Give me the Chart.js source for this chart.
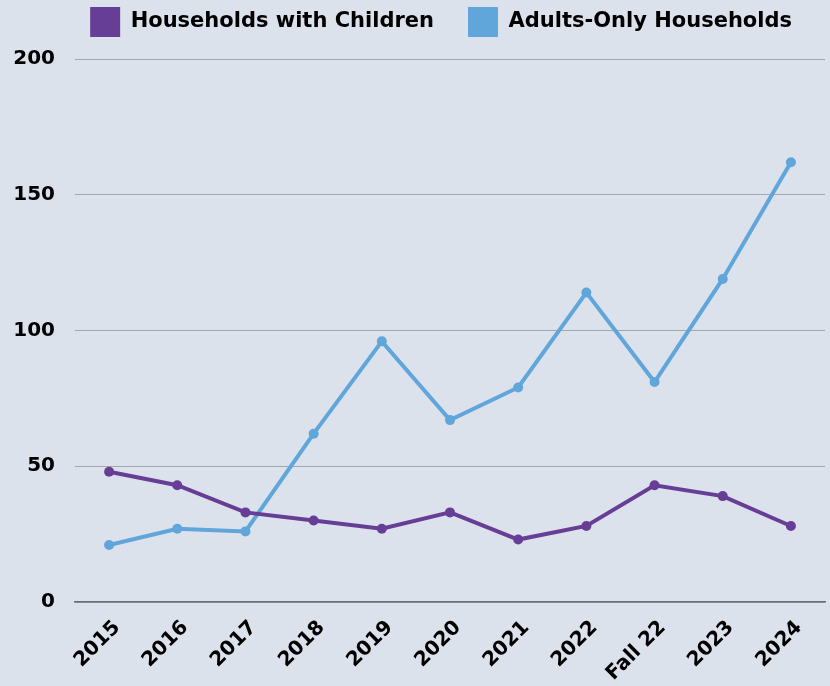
<!DOCTYPE html>
<html>
<head>
<meta charset="utf-8">
<script src="https://cdn.jsdelivr.net/npm/chart.js@4/dist/chart.umd.min.js"></script>
<style>
    html, body { margin: 0; padding: 0; background: #dce2ec; }
    #wrap { width: 830px; height: 686px; position: relative; }
</style>
</head>
<body>
<div id="wrap"><canvas id="chart"></canvas></div>
<script>
const labels = ['2015', '2016', '2017', '2018', '2019', '2020', '2021', '2022', 'Fall 22', '2023', '2024'];
const withChildren = [48, 43, 33, 30, 27, 33, 23, 28, 43, 39, 28];
const adultsOnly = [21, 27, 26, 62, 96, 67, 79, 114, 81, 119, 162];
const yTicks = [0, 50, 100, 150, 200];

const purple = '#673e95';
const blue = '#60a6db';
const fontFamily = '"DejaVu Sans", sans-serif';

// legend sits high, plot starts lower: force the legend box height
const legendSpacing = {
    id: 'legendSpacing',
    beforeInit(chart) {
        const origFit = chart.legend.fit;
        chart.legend.fit = function () {
            origFit.call(this);
            this.height = 86;
        };
    }
};

new Chart(document.getElementById('chart'), {
    type: 'line',
    data: {
        labels: labels,
        datasets: [{
            label: 'Households with Children',
            data: withChildren,
            borderColor: purple,
            backgroundColor: purple,
            borderWidth: 4,
            pointRadius: 5,
            pointBackgroundColor: purple,
            pointBorderWidth: 0,
            tension: 0
        }, {
            label: 'Adults-Only Households',
            data: adultsOnly,
            borderColor: blue,
            backgroundColor: blue,
            borderWidth: 4,
            pointRadius: 5,
            pointBackgroundColor: blue,
            pointBorderWidth: 0,
            tension: 0
        }]
    },
    plugins: [legendSpacing],
    options: {
        responsive: true,
        maintainAspectRatio: false,
        animation: false,
        layout: { padding: { left: 0, right: 4, top: -27, bottom: 0 } },
        plugins: {
            legend: {
                position: 'top',
                align: 'end',
                labels: {
                    color: '#000',
                    font: { family: fontFamily, size: 21, weight: 'bold' },
                    boxWidth: 30,
                    boxHeight: 30,
                    padding: 34,
                    generateLabels: (chart) => chart.data.datasets.map((ds, i) => ({
                        text: ds.label,
                        fillStyle: ds.borderColor,
                        strokeStyle: ds.borderColor,
                        lineWidth: 0,
                        datasetIndex: i
                    }))
                }
            },
            tooltip: { enabled: false }
        },
        scales: {
            x: {
                offset: true,
                grid: { display: false, drawTicks: false },
                border: { display: true, color: '#6b6e73', width: 1.5 },
                afterFit: (axis) => {
                    axis.paddingLeft = 0;
                    axis.paddingRight = 0;
                    axis.height = 84;
                },
                ticks: {
                    color: '#000',
                    font: { family: fontFamily, size: 20, weight: 'bold' },
                    maxRotation: 45,
                    minRotation: 45,
                    padding: 14,
                    labelOffset: 8
                }
            },
            y: {
                min: 0,
                max: 200,
                afterBuildTicks: (axis) => { axis.ticks = yTicks.map(v => ({ value: v })); },
                afterFit: (axis) => { axis.width = 75; },
                grid: { color: '#a3a7af', lineWidth: 1, drawTicks: false },
                border: { display: false },
                ticks: {
                    color: '#000',
                    font: { family: fontFamily, size: 20, weight: 'bold' },
                    padding: 20
                }
            }
        }
    }
});
</script>
</body>
</html>
